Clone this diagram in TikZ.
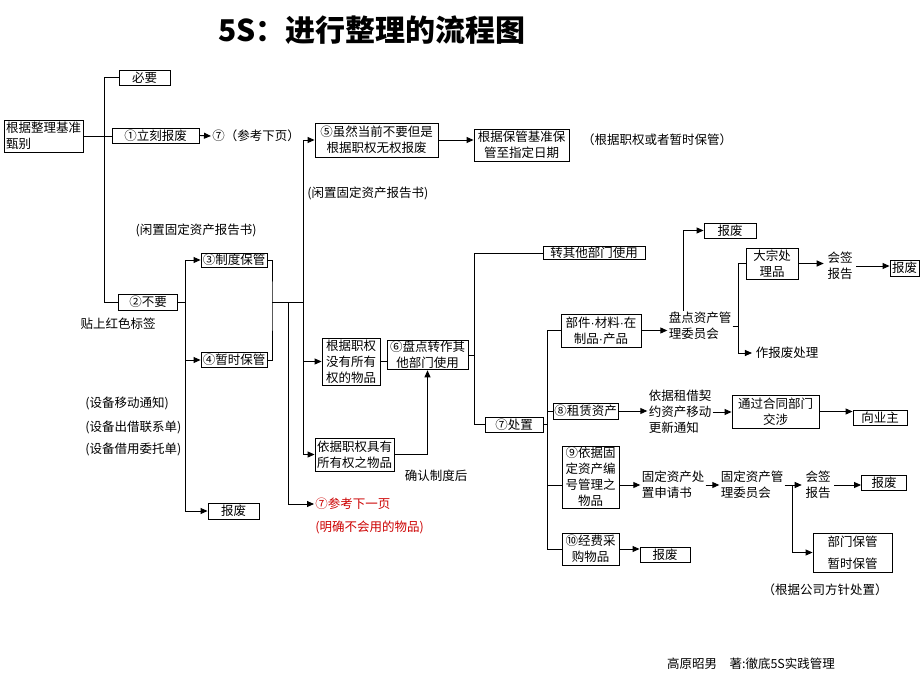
\documentclass[tikz,border=0pt]{standalone}
\usepackage{fontspec}
\setmainfont{Noto Sans CJK SC}
\newfontfamily\dotfont{Liberation Sans}
\newcommand{\mdot}{{\dotfont ·}}
\usetikzlibrary{arrows.meta}
\definecolor{notered}{RGB}{204,0,0}

\begin{document}
\begin{tikzpicture}[
          x=1pt, y=-1pt,
          font=\fontsize{12.5}{16}\selectfont,
          line width=0.9pt,
          box/.style={rectangle, draw, inner sep=1pt, align=center},
          note/.style={inner sep=1pt, align=left},
          arrow/.style={-{Triangle[length=7pt,width=6pt]}}
        ]
          \useasboundingbox (0,0) rectangle (920,690);

          \node[font=\fontsize{30}{34}\selectfont\bfseries] (title) at (372,30) {5S：进行整理的流程图};

          % left part
          \node[box, align=left, minimum width=79, minimum height=32] (judge) at (43.5,136) {根据整理基准\\甄别};
          \node[box, minimum width=51, minimum height=15] (need) at (144.5,77.5) {必要};
          \node[box, minimum width=87, minimum height=15] (scrap1) at (155.5,135.5) {①立刻报废};
          \node[note, anchor=west] (ref7a) at (211,136) {⑦（参考下页）};
          \node[box, minimum width=59, minimum height=16] (unneed) at (148,302) {②不要};
          \node (redtag) at (118,324) {贴上红色标签};
          \node (idle1) at (196,230) {(闲置固定资产报告书)};
          \node[box, minimum width=66, minimum height=14] (keep3) at (234,260) {③制度保管};
          \node[box, minimum width=66, minimum height=15] (keep4) at (234,360) {④暂时保管};
          \node[box, minimum width=51, minimum height=16] (scrapL) at (233.5,511) {报废};
          \node[note, anchor=west] (move) at (84,403) {(设备移动通知)};
          \node[note, anchor=west] (lend) at (84,427) {(设备出借联系单)};
          \node[note, anchor=west] (loan) at (84,449) {(设备借用委托单)};

          % middle part
          \node[box, minimum width=123, minimum height=34] (box5) at (376.5,140) {⑤虽然当前不要但是\\根据职权无权报废};
          \node[box, minimum width=95, minimum height=32] (keepdate) at (521.5,145) {根据保管基准保\\管至指定日期};
          \node (note5) at (657,140) {（根据职权或者暂时保管）};
          \node[note, anchor=west] (idle2) at (306,193) {(闲置固定资产报告书)};
          \node[box, minimum width=58, minimum height=47] (noright) at (351,361.5) {根据职权\\没有所有\\权的物品};
          \node[box, minimum width=81, minimum height=28] (box6) at (427.5,355) {⑥盘点转作其\\他部门使用};
          \node[box, align=left, minimum width=79, minimum height=33] (hasright) at (354.5,454.5) {依据职权具有\\所有权之物品};
          \node (confirm) at (436,476) {确认制度后};
          \node[note, anchor=west, text=notered] (red1) at (314,504) {⑦参考下一页};
          \node[note, anchor=west, text=notered] (red2) at (314,527) {(明确不会用的物品)};

          % right part
          \node[box, minimum width=102, minimum height=13] (transfer) at (594,253) {转其他部门使用};
          \node[box, minimum width=58, minimum height=15] (dispose) at (514,424.5) {⑦处置};
          \node[box, minimum width=80, minimum height=33] (parts) at (601,330.5) {部件\mdot 材料\mdot 在\\制品\mdot 产品};
          \node[note] (committee1) at (700,326) {盘点资产管\\理委员会};
          \node[box, minimum width=52, minimum height=15] (scrapA) at (730,230.5) {报废};
          \node[box, minimum width=52, minimum height=31] (bulk) at (772,263.5) {大宗处\\理品};
          \node (scrapdo) at (787,353) {作报废处理};
          \node[align=center] (sign1) at (840,266) {会签\\报告};
          \node[box, minimum width=29, minimum height=16] (scrapB) at (904.5,268) {报废};
          \node[box, minimum width=65, minimum height=16] (lease) at (585.5,411) {⑧租赁资产};
          \node[note] (leasenote) at (680,412) {依据租借契\\约资产移动\\更新通知};
          \node[box, minimum width=87, minimum height=33] (contract) at (775.5,411.5) {通过合同部门\\交涉};
          \node[box, minimum width=54, minimum height=15] (owner) at (880,417.5) {向业主};
          \node[box, minimum width=57, minimum height=62] (fixed) at (590.5,477) {⑨依据固\\定资产编\\号管理之\\物品};
          \node[note] (apply) at (673,485) {固定资产处\\置申请书};
          \node[note] (committee2) at (752,485) {固定资产管\\理委员会};
          \node[align=center] (sign2) at (818,485) {会签\\报告};
          \node[box, minimum width=45, minimum height=15] (scrapC) at (884,482.5) {报废};
          \node[box, minimum width=79, minimum height=39, font=\fontsize{12.5}{22}\selectfont] (deptkeep) at (852.5,552.5) {部门保管\\暂时保管};
          \node[box, minimum width=57, minimum height=32] (budget) at (590.5,549) {⑩经费采\\购物品};
          \node[box, minimum width=50, minimum height=15] (scrapD) at (665,554.5) {报废};
          \node (policy) at (825,590) {（根据公司方针处置）};
          \node (footer) at (751,664) {高原昭男\quad 著:徹底5S实践管理};

          % junctions
          \coordinate (br1) at (185,302);
          \coordinate (m3) at (272,302);
          \coordinate (j1) at (288,302);
          \coordinate (j2) at (303,302);
          \coordinate (j6) at (474,355);
          \coordinate (j7) at (547,424.5);
          \coordinate (j8) at (738,326);
          \coordinate (j9) at (792,485);

          \draw (judge.east) -- (judge.east -| scrap1.west);
          \draw (need.west) -- ++(-14,0) |- (unneed.west);
          \draw[arrow] (scrap1.east) -- (ref7a.west);
          \draw (unneed.east) -- (br1);
          \draw[arrow] (br1) |- (keep3.west);
          \draw[arrow] (br1) |- (keep4.west);
          \draw[arrow] (br1) |- (scrapL.west);
          \draw (keep3.east) -| (m3) |- (keep4.east);
          \draw (m3) -- (j2);
          \draw[arrow] (j2) |- (box5.west);
          \draw[arrow] (j2) |- (noright.west);
          \draw[arrow] (j2) |- (hasright.west);
          \draw[arrow] (j1) |- (red1.west);
          \draw[arrow] (box5.east) -- (box5.east -| keepdate.west);
          \draw (noright.east) -- (noright.east -| box6.west);
          \draw[arrow] (hasright.east) -| (box6.south);
          \draw (box6.east) -- (j6);
          \draw (j6) |- (transfer.west);
          \draw (j6) |- (dispose.west);
          \draw (dispose.east) -- (j7);
          \draw (j7) |- (parts.west);
          \draw (j7) |- (lease.west);
          \draw (j7) |- (fixed.west |- apply);
          \draw (j7) |- (budget.west);
          \draw[arrow] (parts.east) -- (parts.east -| committee1.west);
          \draw[arrow] ([xshift=-17pt]committee1.north) |- (scrapA.west);
          \draw (committee1.east) -- (j8);
          \draw (j8) |- (bulk.west);
          \draw[arrow] (j8) |- (scrapdo.west);
          \draw[arrow] (bulk.east) -- (bulk.east -| sign1.west);
          \draw[arrow] (sign1.east) -- (sign1.east -| scrapB.west);
          \draw[arrow] (lease.east) -- (lease.east -| leasenote.west);
          \draw[arrow] (leasenote.east) -- (leasenote.east -| contract.west);
          \draw[arrow] (contract.east) -- (contract.east -| owner.west);
          \draw[arrow] (fixed.east |- apply) -- (apply.west);
          \draw[arrow] (apply.east) -- (committee2.west);
          \draw (committee2.east) -- (j9);
          \draw[arrow] (j9) -- (sign2.west);
          \draw[arrow] (j9) |- (deptkeep.west);
          \draw[arrow] (sign2.east) -- (sign2.east -| scrapC.west);
          \draw[arrow] (budget.east) -- (budget.east -| scrapD.west);
        \end{tikzpicture}
\end{document}
